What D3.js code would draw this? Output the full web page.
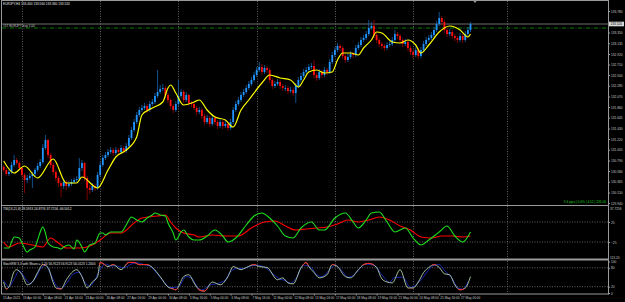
<!DOCTYPE html>
<html>
<head>
<meta charset="utf-8">
<script src="https://cdn.jsdelivr.net/npm/d3@7"></script>
<style>
  body { margin: 0; background: #000; }
  svg { display: block; }
  text { font-family: "Liberation Sans", Arial, sans-serif; }
</style>
</head>
<body>
<script>
// ---- data (EURJPY H4) ----
var closes = [130.60,130.52,130.56,130.70,130.80,130.74,130.64,130.50,130.40,130.44,130.48,130.52,130.60,130.68,130.76,131.04,131.20,130.90,130.70,130.56,
  130.44,130.34,130.28,130.36,130.28,130.32,130.36,130.40,130.42,130.64,130.74,130.44,130.24,130.20,130.28,130.24,130.50,130.70,130.84,130.90,
  130.96,131.00,130.94,131.00,130.96,131.04,130.98,131.08,131.24,131.40,131.56,131.70,131.80,131.84,131.88,131.80,131.92,131.96,132.08,132.16,
  132.22,132.24,132.10,132.00,131.88,131.80,131.92,132.08,132.16,132.00,132.10,131.94,131.92,131.84,131.76,131.80,131.68,131.56,131.64,131.52,
  131.64,131.56,131.48,131.56,131.48,131.52,131.44,131.56,131.80,131.92,132.00,132.10,132.16,132.24,132.32,132.40,132.50,132.60,132.66,132.56,
  132.64,132.60,132.40,132.28,132.32,132.36,132.28,132.24,132.24,132.18,132.20,132.14,132.28,132.40,132.48,132.56,132.60,132.66,132.68,132.50,
  132.44,132.56,132.50,132.60,132.56,132.76,132.90,133.00,133.08,133.04,132.88,132.80,132.86,132.92,132.90,133.04,133.10,133.20,133.24,133.32,
  133.44,133.48,133.30,133.20,133.12,133.08,133.04,133.10,133.12,133.20,133.32,133.28,133.20,133.12,133.16,133.04,132.96,132.90,133.00,132.88,
  133.00,133.12,133.20,133.24,133.30,133.40,133.52,133.64,133.56,133.40,133.32,133.36,133.28,133.24,133.20,133.28,133.20,133.32,133.40,133.52];
var opens = [130.66,130.60,130.52,130.56,130.70,130.80,130.74,130.64,130.50,130.40,130.44,130.48,130.52,130.60,130.68,130.76,131.04,131.20,130.90,130.70,
  130.56,130.44,130.34,130.28,130.36,130.28,130.32,130.36,130.40,130.42,130.64,130.74,130.44,130.24,130.20,130.28,130.24,130.50,130.70,130.84,
  130.90,130.96,131.00,130.94,131.00,130.96,131.04,130.98,131.08,131.24,131.40,131.56,131.70,131.80,131.84,131.88,131.80,131.92,131.96,132.08,
  132.16,132.22,132.24,132.10,132.00,131.88,131.80,131.92,132.08,132.16,132.00,132.10,131.94,131.92,131.84,131.76,131.80,131.68,131.56,131.64,
  131.52,131.64,131.56,131.48,131.56,131.48,131.52,131.44,131.56,131.80,131.92,132.00,132.10,132.16,132.24,132.32,132.40,132.50,132.60,132.66,
  132.56,132.64,132.60,132.40,132.28,132.32,132.36,132.28,132.24,132.24,132.18,132.20,132.14,132.28,132.40,132.48,132.56,132.60,132.66,132.68,
  132.50,132.44,132.56,132.50,132.60,132.56,132.76,132.90,133.00,133.08,133.04,132.88,132.80,132.86,132.92,132.90,133.04,133.10,133.20,133.24,
  133.32,133.44,133.48,133.30,133.20,133.12,133.08,133.04,133.10,133.12,133.20,133.32,133.28,133.20,133.12,133.16,133.04,132.96,132.90,133.00,
  132.88,133.00,133.12,133.20,133.24,133.30,133.40,133.52,133.64,133.56,133.40,133.32,133.36,133.28,133.24,133.20,133.28,133.20,133.32,133.40];
var highs = [130.70,130.64,130.60,130.76,130.90,130.84,130.78,130.66,130.54,130.50,130.54,130.56,130.64,130.74,130.82,131.12,131.30,131.22,130.94,130.74,
  130.60,130.48,130.38,130.42,130.40,130.38,130.42,130.44,130.48,130.84,130.80,130.76,130.48,130.30,130.34,130.32,130.56,130.76,130.90,130.96,
  131.02,131.06,131.04,131.06,131.04,131.10,131.08,131.14,131.30,131.46,131.62,131.76,131.86,131.90,131.94,131.92,131.98,132.02,132.14,132.60,
  132.30,132.32,132.28,132.14,132.04,131.92,131.98,132.40,132.22,132.20,132.16,132.12,131.98,131.96,131.88,131.86,131.84,131.72,131.70,131.68,
  131.70,131.68,131.60,131.62,131.60,131.58,131.56,131.62,131.86,131.98,132.06,132.16,132.22,132.30,132.38,132.46,132.56,132.66,132.76,132.72,
  132.70,132.68,132.64,132.44,132.38,132.42,132.40,132.32,132.30,132.28,132.26,132.24,132.34,132.46,132.54,132.62,132.66,132.72,132.74,132.80,
  132.54,132.62,132.60,132.66,132.64,132.82,132.96,133.06,133.14,133.12,133.08,132.92,132.92,132.98,132.96,133.10,133.16,133.26,133.30,133.38,
  133.60,133.56,133.60,133.34,133.24,133.16,133.12,133.16,133.18,133.26,133.40,133.36,133.32,133.24,133.22,133.20,133.08,133.00,133.06,133.04,
  133.06,133.18,133.26,133.30,133.36,133.46,133.58,133.76,133.68,133.60,133.44,133.42,133.40,133.32,133.28,133.34,133.32,133.38,133.46,133.56];
var lows = [130.56,130.48,130.48,130.52,130.66,130.70,130.60,130.46,130.14,130.34,130.40,130.24,130.48,130.56,130.64,130.72,131.00,130.84,130.64,130.50,
  130.38,130.26,130.06,130.22,130.20,130.24,130.28,130.32,130.36,130.38,130.58,130.38,130.00,130.12,130.16,130.18,130.20,130.46,130.66,130.80,
  130.86,130.92,130.88,130.90,130.92,130.92,130.94,130.94,131.04,131.20,131.36,131.52,131.66,131.76,131.80,131.74,131.76,131.88,131.92,132.04,
  132.12,132.18,132.04,131.94,131.82,131.74,131.76,131.88,132.04,131.94,131.96,131.90,131.86,131.80,131.70,131.72,131.62,131.50,131.52,131.46,
  131.48,131.50,131.42,131.44,131.42,131.44,131.38,131.40,131.52,131.76,131.88,131.96,132.06,132.12,132.20,132.28,132.36,132.46,132.56,132.50,
  132.52,132.54,132.34,132.22,132.24,132.28,132.22,132.18,132.18,132.12,132.14,132.08,131.94,132.24,132.36,132.44,132.52,132.56,132.62,132.44,
  132.38,132.40,132.44,132.46,132.50,132.52,132.72,132.86,132.96,132.98,132.82,132.74,132.76,132.82,132.84,132.86,133.00,133.06,133.16,133.20,
  133.28,133.40,133.24,133.14,133.06,133.02,132.98,133.00,133.06,133.08,133.16,133.22,133.14,133.06,133.08,132.98,132.90,132.84,132.86,132.82,
  132.84,132.96,133.08,133.16,133.20,133.26,133.36,133.48,133.50,133.34,133.26,133.28,133.22,133.18,133.14,133.16,133.14,133.16,133.28,133.36];

// yellow moving average (bar index, price)
var maBars   = [0,4,8,13,19,24,28,30,36,40,43,47,51,53,57,61,63,64,66,69,73,75,78,81,85,88,91,94,99,102,106,110,113,115,117,120,123,126,128,130,133,136,138,141,143,145,149,152,155,158,160,163,167,171,175,178,179];
var maValues = [130.78,130.54,130.68,130.44,130.82,130.34,130.34,130.46,130.24,130.60,130.86,131.00,131.26,131.70,131.84,131.96,132.24,132.30,132.14,131.90,131.96,132.00,131.80,131.66,131.60,131.46,131.80,132.00,132.34,132.50,132.44,132.40,132.26,132.40,132.56,132.60,132.54,132.56,132.80,132.94,132.94,132.90,133.04,133.20,133.36,133.34,133.16,133.14,133.20,133.10,132.94,133.10,133.36,133.48,133.40,133.26,133.32];

// TSI window
var tsiBars   = [0,2,3,4,6,7,9,10,12,13,14,15,16,17,19,21,22,23,25,27,28,30,31,33,35,37,38,39,41,43,45,47,49,51,53,55,57,58,60,62,63,65,66,68,69,71,73,75,78,81,84,86,89,93,96,99,102,105,108,111,114,118,121,123,127,131,134,136,139,141,144,147,150,154,157,160,163,167,170,173,176,179];
var tsiValues = [-40,-40,-25,-12.5,-15,-27.5,-50,-45,-37.5,-20,0,12.5,-2.5,-27.5,-37.5,-40,-42.5,-37.5,-32.5,-42.5,-20,-37.5,-50,-32.5,-27.5,-2.5,-2.5,-7.5,0,0,0,17.5,37.5,30,25,35,42.5,47.5,42.5,40,22.5,-2.5,-20,0,5,-12.5,-20,-20,-10,5,-10,-25,-15,17.5,40,47.5,35,15,-10,-15,10,25,5,5,35,47.5,25,10,30,47.5,50,25,0,10,-15,-32.5,-20,0,15,-10,-25,0];
var sigBars   = [0,2,6,11,15,18,21,24,29,34,37,41,45,50,53,59,62,64,66,69,73,75,80,85,90,95,100,104,108,112,116,120,124,128,132,136,140,144,148,152,156,160,164,168,172,176,179];
var sigValues = [-25,-37.5,-27.5,-32.5,-37.5,-15,-27.5,-40,-40,-32.5,-20,-2.5,-2.5,22.5,35,40,42.5,25,10,-2.5,-7.5,-12.5,-7.5,-10,-10,10,25,27.5,15,5,7.5,10,12.5,20,30,25,30,37.5,30,15,5,-12.5,-15,-10,-10,-12.5,-10];

// StochRSI window
var stBars   = [0,1,2,4,5,7,9,11,13,15,17,19,20,22,24,28,30,32,34,36,37,38,40,42,45,48,50,52,55,57,60,63,65,66,69,71,73,75,77,80,83,86,88,91,93,96,98,101,105,107,109,111,114,116,117,119,121,124,126,128,131,133,136,138,140,143,145,147,149,152,155,157,159,161,163,165,167,169,171,173,175,177,179];
var stValues = [35,13,19,68,74,58,26,35,65,90,81,32,16,13,42,74,52,16,35,52,97,94,84,90,74,97,97,90,90,81,52,19,13,10,52,58,32,10,6,35,26,52,84,74,81,90,84,81,42,48,32,29,80,97,84,65,48,58,90,84,52,48,74,90,94,81,45,35,32,74,16,16,35,65,81,90,81,61,58,26,10,16,52];
var stSigBars   = [0,2,4,6,8,10,12,14,16,18,20,22,24,27,29,31,33,35,37,39,41,43,46,49,51,54,56,58,61,64,67,70,72,74,76,79,82,85,87,90,92,95,97,100,103,106,108,110,112,115,118,120,122,125,127,130,132,135,137,139,142,145,148,150,153,156,158,161,163,165,167,169,172,174,176,178];
var stSigValues = [40,20,45,70,50,30,45,75,88,60,25,14,30,62,66,35,22,42,75,92,86,86,80,92,96,90,86,70,40,17,20,52,48,22,9,25,30,42,68,78,78,86,88,82,62,44,40,31,45,88,80,58,52,74,88,68,50,62,82,92,88,58,34,50,50,18,25,52,74,88,90,72,45,18,12,35];

// axes, labels (133.565 sits under the current price box, so it is not listed)
var priceTicks = [133.780,133.350,133.135,132.920,132.710,132.500,132.285,132.070,131.860,131.645,131.430,131.220,131.005,130.790,130.580,130.365,130.150,129.940];
var timeBars   = [7,15,23,31,39,47,55,63,71,79,87,95,103,111,119,127,135,143,151,159,167,175];
var timeLabels = ['19 Apr 00:00','20 Apr 08:00','21 Apr 16:00','23 Apr 00:00','26 Apr 08:00','27 Apr 16:00','29 Apr 00:00','30 Apr 08:00',
  '3 May 16:00','5 May 00:00','6 May 08:00','7 May 16:00','11 May 00:00','12 May 08:00','13 May 16:00','17 May 00:00','18 May 08:00',
  '19 May 16:00','21 May 00:00','24 May 08:00','25 May 16:00','27 May 00:00'];
var gridBars = [7,37,67,97,127,157,193];
var bidPrice = 133.52, orderPrice = 133.44;

// ---- layout ----
var W = 625, H = 302;
var axisX = 608;
var svg = d3.select('body').append('svg').attr('width', W).attr('height', H);
svg.append('rect').attr('width', W).attr('height', H).attr('fill', '#000');

var x = d3.scaleLinear().domain([0, 193]).range([3.7, 507]);
var yMain = d3.scaleLinear().domain([129.94, 133.78]).range([203, 11]);
var yTsi = d3.scaleLinear().domain([-25, 25]).range([242, 222]);
var ySt = d3.scaleLinear().domain([0, 100]).range([293, 261.5]);

var textCol = '#c8c8c8', fs = 3.2;

// vertical dotted grid
svg.append('g').selectAll('line').data(gridBars).enter().append('line')
  .attr('x1', function(d) { return Math.round(x(d)) + 0.5; })
  .attr('x2', function(d) { return Math.round(x(d)) + 0.5; })
  .attr('y1', 1).attr('y2', 293)
  .attr('stroke', '#777').attr('stroke-width', 0.8).attr('stroke-dasharray', '1,1.5');

// horizontal dotted levels in subwindows
[[yTsi, [25, -25]], [ySt, [80, 20]]].forEach(function(p) {
  svg.append('g').selectAll('line').data(p[1]).enter().append('line')
    .attr('x1', 2).attr('x2', axisX)
    .attr('y1', function(d) { return p[0](d); }).attr('y2', function(d) { return p[0](d); })
    .attr('stroke', '#777').attr('stroke-width', 0.8).attr('stroke-dasharray', '1,1.5');
});

// frame / separators
var frame = svg.append('g').attr('stroke', '#9a9a9a');
frame.append('line').attr('x1', 1.5).attr('x2', 1.5).attr('y1', 0).attr('y2', 294);
frame.append('line').attr('x1', 1).attr('x2', axisX).attr('y1', 0.5).attr('y2', 0.5);
frame.append('line').attr('x1', axisX + 0.5).attr('x2', axisX + 0.5).attr('y1', 0).attr('y2', 294.5);
frame.append('line').attr('x1', 1).attr('x2', axisX).attr('y1', 205.5).attr('y2', 205.5).attr('stroke-width', 1.2);
frame.append('line').attr('x1', 1).attr('x2', axisX).attr('y1', 259.5).attr('y2', 259.5).attr('stroke-width', 2);
frame.append('line').attr('x1', 1).attr('x2', axisX + 1).attr('y1', 294).attr('y2', 294);

// bid line and order line
svg.append('line').attr('x1', 2).attr('x2', axisX).attr('y1', yMain(bidPrice)).attr('y2', yMain(bidPrice))
  .attr('stroke', '#8c8c8c').attr('stroke-width', 0.8);
svg.append('line').attr('x1', 2).attr('x2', axisX).attr('y1', yMain(orderPrice)).attr('y2', yMain(orderPrice))
  .attr('stroke', '#0a8a0a').attr('stroke-width', 0.9).attr('stroke-dasharray', '4,1.5,1,1.5');
svg.append('text').attr('x', 3).attr('y', yMain(orderPrice) - 1.2).attr('font-size', fs).attr('fill', textCol)
  .text('#57 EURJPY buy 1.00');

// candles
var bars = closes.map(function(c, i) { return {i: i, o: opens[i], h: highs[i], l: lows[i], c: c}; });
var cg = svg.append('g');
cg.selectAll('line').data(bars).enter().append('line')
  .attr('x1', function(d) { return x(d.i); }).attr('x2', function(d) { return x(d.i); })
  .attr('y1', function(d) { return yMain(d.h); }).attr('y2', function(d) { return yMain(d.l); })
  .attr('stroke', function(d) { return d.c >= d.o ? '#1565b0' : '#a00000'; })
  .attr('stroke-width', 0.8);
cg.selectAll('rect').data(bars).enter().append('rect')
  .attr('x', function(d) { return x(d.i) - 0.9; })
  .attr('width', 1.8)
  .attr('y', function(d) { return yMain(Math.max(d.o, d.c)); })
  .attr('height', function(d) { return Math.max(0.8, Math.abs(yMain(d.o) - yMain(d.c))); })
  .attr('fill', function(d) { return d.c >= d.o ? '#2196ff' : '#ff1010'; });

// moving average
var maLine = d3.line().x(function(d) { return x(d[0]); }).y(function(d) { return yMain(d[1]); }).curve(d3.curveMonotoneX);
svg.append('path').datum(d3.zip(maBars, maValues)).attr('d', maLine)
  .attr('fill', 'none').attr('stroke', '#ffff00').attr('stroke-width', 1.2);

// TSI
var tsiLine = function(sc) {
  return d3.line().x(function(d) { return x(d[0]); }).y(function(d) { return sc(d[1]); }).curve(d3.curveMonotoneX);
};
svg.append('path').datum(d3.zip(sigBars, sigValues)).attr('d', tsiLine(yTsi))
  .attr('fill', 'none').attr('stroke', '#ff0000').attr('stroke-width', 1.1);
svg.append('path').datum(d3.zip(tsiBars, tsiValues)).attr('d', tsiLine(yTsi))
  .attr('fill', 'none').attr('stroke', '#1ee01e').attr('stroke-width', 1.1);

// StochRSI
var defs = svg.append('defs');
defs.append('clipPath').attr('id', 'ext').selectAll('rect')
  .data([[250, ySt(88)], [ySt(14), 300]]).enter().append('rect')
  .attr('x', 0).attr('width', W)
  .attr('y', function(d) { return d[0]; }).attr('height', function(d) { return d[1] - d[0]; });
svg.append('path').datum(d3.zip(stSigBars, stSigValues)).attr('d', tsiLine(ySt))
  .attr('fill', 'none').attr('stroke', '#1c2cc8').attr('stroke-width', 0.9);
var stData = d3.zip(stBars, stValues);
svg.append('path').datum(stData).attr('d', tsiLine(ySt))
  .attr('fill', 'none').attr('stroke', '#b4d2ac').attr('stroke-width', 0.9);
svg.append('path').datum(stData).attr('d', tsiLine(ySt)).attr('clip-path', 'url(#ext)')
  .attr('fill', 'none').attr('stroke', '#ff1a1a').attr('stroke-width', 1);

// price axis
var pAxis = svg.append('g').attr('transform', 'translate(' + (axisX + 0.5) + ',0)')
  .call(d3.axisRight(yMain).tickValues(priceTicks).tickFormat(d3.format('.3f')).tickSize(1.5).tickPadding(1));
pAxis.select('.domain').remove();
pAxis.selectAll('line').attr('stroke', '#9a9a9a');
pAxis.selectAll('text').attr('font-size', fs).attr('fill', textCol).attr('font-family', '"Liberation Sans", Arial');

// current price box
svg.append('rect').attr('x', axisX + 1).attr('y', yMain(bidPrice) - 2.3).attr('width', 15).attr('height', 4.6).attr('fill', '#d8d8d8');
svg.append('text').attr('x', axisX + 2.5).attr('y', yMain(bidPrice) + 1.1).attr('font-size', fs).attr('fill', '#000').text(bidPrice.toFixed(3));

// subwindow axes
var tAxis = svg.append('g').attr('transform', 'translate(' + (axisX + 0.5) + ',0)')
  .call(d3.axisRight(yTsi).tickValues([25, -25]).tickSize(1.5).tickPadding(1));
var sAxis = svg.append('g').attr('transform', 'translate(' + (axisX + 0.5) + ',0)')
  .call(d3.axisRight(ySt).tickValues([100, 80, 20, 0]).tickSize(1.5).tickPadding(1));
[tAxis, sAxis].forEach(function(a) {
  a.select('.domain').remove();
  a.selectAll('line').attr('stroke', '#9a9a9a');
  a.selectAll('text').attr('font-size', fs).attr('fill', textCol).attr('font-family', '"Liberation Sans", Arial');
});
svg.append('text').attr('x', axisX + 2).attr('y', 209.5).attr('font-size', fs).attr('fill', textCol).text('37.7256');
svg.append('text').attr('x', axisX + 2).attr('y', 258.5).attr('font-size', fs).attr('fill', textCol).text('113.20');

// time axis
var xAxis = svg.append('g').attr('transform', 'translate(0,294)')
  .call(d3.axisBottom(x).tickValues(timeBars).tickFormat(function(d, k) { return timeLabels[k]; }).tickSize(1.5).tickPadding(0.8));
xAxis.select('.domain').remove();
xAxis.selectAll('line').attr('stroke', '#9a9a9a');
xAxis.selectAll('text').attr('font-size', fs).attr('fill', textCol).attr('text-anchor', 'start')
  .attr('dx', 0.5).attr('font-family', '"Liberation Sans", Arial');
svg.append('text').attr('x', 3).attr('y', 298.6).attr('font-size', fs).attr('fill', textCol).text('15 Apr 2021');

// titles
svg.append('text').attr('x', 3).attr('y', 5).attr('font-size', fs).attr('fill', '#e8e8e8')
  .text('EURJPY,H4  133.400 133.560 133.360 133.520');
svg.append('text').attr('x', 3).attr('y', 210).attr('font-size', fs).attr('fill', '#e8e8e8')
  .text('TSI(13,21,8)  28.5913  24.8776  37.7256  -66.5012');
svg.append('text').attr('x', 3).attr('y', 264.5).attr('font-size', fs).attr('fill', '#e8e8e8')
  .text('StochRSI 3,3 with Share = 1.20  56.9123  56.9123  56.0123  1.2000');
svg.append('text').attr('x', 606).attr('y', 203).attr('text-anchor', 'end').attr('font-size', fs).attr('fill', '#1ed21e')
  .text('9.4 pips | 0.0% | 4:12 | 231.00');

// chart shift marker
svg.append('path').attr('d', 'M473,0.5 L477,0.5 L475,3 Z').attr('fill', '#9a9a9a');
</script>
</body>
</html>
